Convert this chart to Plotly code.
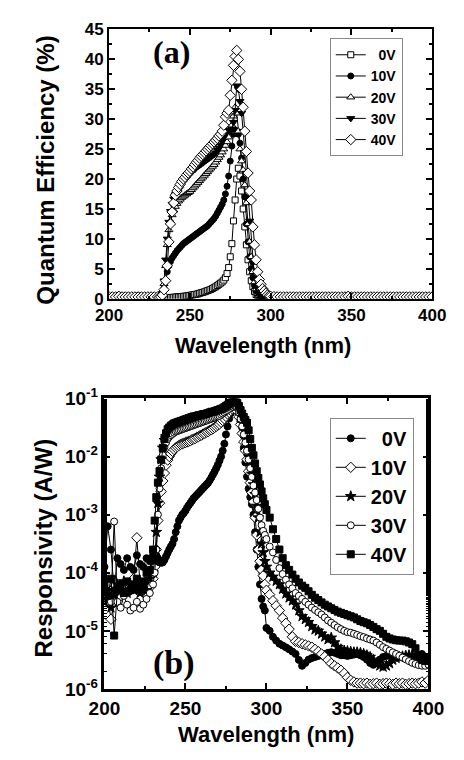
import plotly.graph_objects as go

# ---------------- wavelength grid (nm) ----------------
wl = list(range(200, 231, 2)) + list(range(231, 300)) + list(range(300, 401, 2))

series_labels = ["\u00a0\u00a00V", "10V", "20V", "30V", "40V"]

# ---------------- panel (a): quantum efficiency (%) ----------------
qe_0V = ([0.3, 0.3, 0.3, 0.5, 0.3, 0.3, 0.3, 0.3, 0.3, 0.4, 0.3, 0.3, 0.3, 0.3, 0.3, 0.3]
         + [0.2, 0.2, 0.2, 0.2, 0.2, 0.2, 0.2, 0.2, 0.2, 0.25,
            0.25, 0.3, 0.3, 0.3, 0.35, 0.4, 0.4, 0.45, 0.5, 0.55,
            0.6, 0.65, 0.7, 0.75, 0.8, 0.9, 1.0, 1.05, 1.15, 1.25,
            1.35, 1.45, 1.55, 1.7, 1.85, 2.0, 2.2, 2.4, 2.6, 2.8,
            3.1, 3.5, 4.2, 5.2, 7.0, 9.2, 13.0, 16.5, 20.0, 21.8,
            20.5, 18.0, 15.0, 12.0, 9.0, 6.5, 4.5, 3.0, 2.0, 1.2,
            0.7, 0.5, 0.3, 0.3, 0.25, 0.25, 0.2, 0.2, 0.2]
         + [0.3, 0.3, 0.3, 0.3, 0.3, 0.3, 0.3, 0.3, 0.3, 0.3, 0.3, 0.3, 0.3, 0.3, 0.3, 0.3, 0.3,
            0.3, 0.3, 0.3, 0.3, 0.3, 0.3, 0.3, 0.5, 0.3, 0.3, 0.3, 0.3, 0.3, 0.3, 0.3, 0.3, 0.3,
            0.3, 0.3, 0.3, 0.3, 0.3, 0.3, 0.3, 0.3, 0.3, 0.3, 0.3, 0.3, 0.3, 0.3, 0.3, 0.3, 0.3])
qe_10V = ([0.3, 0.3, 0.3, 0.6, 0.4, 0.3, 0.3, 0.3, 0.3, 0.5, 0.3, 0.3, 0.3, 0.3, 0.3, 0.3]
          + [0.2, 0.3, 0.6, 1.8, 3.0, 4.5, 5.5, 6.2, 6.8, 7.2,
             7.6, 8.0, 8.3, 8.6, 8.9, 9.2, 9.4, 9.6, 9.8, 10.0,
             10.2, 10.4, 10.6, 10.8, 11.0, 11.2, 11.4, 11.6, 11.8, 12.0,
             12.2, 12.5, 12.8, 13.1, 13.4, 13.8, 14.3, 14.8, 15.3, 15.8,
             16.5, 17.5, 18.8, 20.5, 23.0, 25.5, 27.5, 28.2, 28.0, 27.5,
             26.0, 23.5, 20.0, 17.0, 12.5, 9.5, 7.0, 5.0, 3.5, 2.2,
             1.3, 0.8, 0.5, 0.4, 0.3, 0.25, 0.2, 0.2, 0.2]
          + [0.3, 0.3, 0.3, 0.3, 0.3, 0.3, 0.3, 0.3, 0.3, 0.3, 0.3, 0.3, 0.3, 0.3, 0.3, 0.3, 0.3,
             0.3, 0.3, 0.3, 0.3, 0.3, 0.3, 0.3, 0.6, 0.3, 0.3, 0.3, 0.3, 0.3, 0.3, 0.3, 0.3, 0.3,
             0.3, 0.3, 0.3, 0.3, 0.3, 0.3, 0.3, 0.3, 0.3, 0.3, 0.3, 0.3, 0.3, 0.3, 0.3, 0.3, 0.3])
qe_20V = ([0.3, 0.3, 0.3, 0.4, 0.3, 0.3, 0.3, 0.3, 0.3, 0.3, 0.3, 0.3, 0.3, 0.3, 0.3, 0.3]
          + [0.2, 0.3, 0.8, 2.5, 5.5, 9.0, 11.5, 13.0, 14.0, 14.8,
             15.4, 15.9, 16.3, 16.6, 16.9, 17.1, 17.3, 17.5, 17.7, 17.9,
             18.2, 18.5, 18.8, 19.1, 19.4, 19.7, 20.0, 20.3, 20.6, 20.9,
             21.2, 21.5, 21.8, 22.1, 22.4, 22.8, 23.2, 23.6, 24.0, 24.5,
             25.0, 25.6, 26.2, 27.0, 28.0, 29.0, 30.5, 32.0, 31.0, 28.0,
             25.0, 23.0, 21.5, 19.0, 16.0, 12.5, 9.5, 7.0, 4.5, 2.8,
             1.6, 0.9, 0.5, 0.35, 0.3, 0.25, 0.2, 0.2, 0.2]
          + [0.3, 0.3, 0.3, 0.3, 0.3, 0.3, 0.3, 0.3, 0.3, 0.3, 0.3, 0.3, 0.3, 0.3, 0.3, 0.3, 0.3,
             0.3, 0.3, 0.3, 0.3, 0.3, 0.3, 0.3, 0.4, 0.3, 0.3, 0.3, 0.3, 0.3, 0.3, 0.3, 0.3, 0.3,
             0.3, 0.3, 0.3, 0.3, 0.3, 0.3, 0.3, 0.3, 0.3, 0.3, 0.3, 0.3, 0.3, 0.3, 0.3, 0.3, 0.3])
qe_30V = ([0.3, 0.3, 0.3, 0.4, 0.3, 0.3, 0.3, 0.3, 0.3, 0.3, 0.3, 0.3, 0.3, 0.3, 0.3, 0.3]
          + [0.2, 0.3, 0.9, 3.0, 6.5, 10.0, 12.8, 14.6, 15.8, 16.7,
             17.4, 17.9, 18.4, 18.8, 19.2, 19.6, 19.9, 20.2, 20.5, 20.8,
             21.1, 21.4, 21.6, 21.9, 22.1, 22.3, 22.5, 22.7, 22.9, 23.1,
             23.3, 23.5, 23.7, 23.9, 24.1, 24.4, 24.8, 25.2, 25.7, 26.3,
             27.0, 27.6, 27.9, 28.1, 28.2, 28.3, 29.5, 31.5, 35.6, 35.0,
             33.0, 31.0, 28.0, 24.5, 21.0, 17.0, 13.0, 9.0, 6.0, 3.5,
             2.0, 1.0, 0.6, 0.4, 0.3, 0.25, 0.2, 0.2, 0.2]
          + [0.3, 0.3, 0.3, 0.3, 0.3, 0.3, 0.3, 0.3, 0.3, 0.3, 0.3, 0.3, 0.3, 0.3, 0.3, 0.3, 0.3,
             0.3, 0.3, 0.3, 0.3, 0.3, 0.3, 0.3, 0.4, 0.3, 0.3, 0.3, 0.3, 0.3, 0.3, 0.3, 0.3, 0.3,
             0.3, 0.3, 0.3, 0.3, 0.3, 0.3, 0.3, 0.3, 0.3, 0.3, 0.3, 0.3, 0.3, 0.3, 0.3, 0.3, 0.3])
qe_40V = ([0.3, 0.3, 0.3, 0.4, 0.3, 0.3, 0.3, 0.3, 0.3, 0.3, 0.3, 0.3, 0.3, 0.3, 0.3, 0.3]
          + [0.2, 0.3, 0.6, 1.5, 3.0, 5.5, 9.5, 12.5, 14.5, 16.0,
             17.3, 18.0, 18.6, 19.1, 19.6, 20.0, 20.3, 20.7, 21.0, 21.3,
             21.7, 22.0, 22.4, 22.8, 23.1, 23.5, 23.8, 24.1, 24.4, 24.7,
             25.0, 25.3, 25.6, 25.9, 26.2, 26.5, 26.8, 27.2, 27.5, 28.0,
             29.0, 30.4, 31.0, 31.5, 34.0, 36.5, 39.0, 40.5, 41.5, 40.0,
             38.0, 35.0, 32.0, 28.0, 24.6, 21.0, 18.0, 16.5, 12.0, 9.0,
             6.5, 4.5, 3.2, 2.4, 1.7, 1.3, 0.9, 0.6, 0.45]
          + [0.4, 0.35, 0.3, 0.3, 0.3, 0.3, 0.3, 0.3, 0.3, 0.3, 0.3, 0.3, 0.3, 0.3, 0.3, 0.3, 0.3,
             0.3, 0.3, 0.3, 0.3, 0.3, 0.3, 0.3, 0.4, 0.3, 0.3, 0.3, 0.3, 0.3, 0.3, 0.3, 0.3, 0.3,
             0.3, 0.3, 0.3, 0.3, 0.3, 0.3, 0.3, 0.3, 0.3, 0.3, 0.3, 0.3, 0.3, 0.3, 0.3, 0.3, 0.3])

# ---------------- panel (b): responsivity (A/W) ----------------
r_0V = ([1.26e-4, 6.3e-4, 2.5e-4, 5.0e-5, 1.78e-4, 1.41e-4, 1.12e-4, 1.78e-4,
         1.26e-4, 1.12e-4, 2.0e-4, 1.41e-4, 1.26e-4, 1.78e-4, 1.58e-4, 2.0e-4]
        + [2.24e-4, 2.0e-4, 1.78e-4, 1.58e-4, 1.48e-4, 1.51e-4, 1.66e-4, 1.91e-4, 2.19e-4, 2.51e-4,
           2.82e-4, 3.16e-4, 3.8e-4, 5.0e-4, 6.3e-4, 7.9e-4, 8.9e-4, 1.0e-3, 1.07e-3, 1.17e-3,
           1.32e-3, 1.45e-3, 1.58e-3, 1.74e-3, 1.91e-3, 2.04e-3, 2.19e-3, 2.34e-3, 2.51e-3, 2.69e-3,
           2.88e-3, 3.09e-3, 3.31e-3, 3.55e-3, 3.89e-3, 4.37e-3, 4.9e-3, 5.5e-3, 6.3e-3, 7.2e-3,
           8.5e-3, 1.0e-2, 1.26e-2, 1.66e-2, 2.4e-2, 3.3e-2, 4.5e-2, 5.6e-2, 6.8e-2, 7.9e-2,
           8.3e-2, 7.1e-2, 5.6e-2, 4.0e-2, 2.5e-2, 1.41e-2, 7.9e-3, 4.5e-3, 2.8e-3, 2.0e-3,
           1.51e-3, 1.0e-3, 5.0e-4, 2.5e-4, 1.26e-4, 6.3e-5, 3.55e-5, 2.63e-5, 2.24e-5]
        + [1.12e-5, 1.0e-5, 7.9e-6, 6.8e-6, 6.0e-6, 5.6e-6, 5.2e-6, 4.8e-6, 4.4e-6, 4.0e-6,
           3.16e-6, 2.5e-6, 2.8e-6, 3.2e-6, 3.4e-6, 3.55e-6, 3.7e-6, 3.8e-6, 4.0e-6, 4.2e-6,
           4.3e-6, 4.2e-6, 4.0e-6, 3.8e-6, 3.8e-6, 3.7e-6, 3.8e-6, 3.9e-6, 4.0e-6, 3.8e-6,
           3.55e-6, 3.2e-6, 2.8e-6, 2.6e-6, 2.8e-6, 3.2e-6, 3.55e-6, 3.7e-6, 3.8e-6, 3.8e-6,
           3.7e-6, 3.6e-6, 3.55e-6, 3.5e-6, 3.4e-6, 3.3e-6, 3.3e-6, 3.55e-6, 4.0e-6, 3.55e-6,
           3.2e-6])
r_10V = ([5.0e-5, 4.0e-5, 1.58e-5, 3.16e-5, 4.47e-5, 4.0e-5, 5.0e-5, 5.6e-5,
          5.0e-5, 7.9e-5, 4.0e-4, 6.3e-5, 5.0e-5, 6.3e-5, 5.6e-5, 7.9e-5]
         + [1.26e-4, 2.5e-4, 7.9e-4, 1.58e-3, 2.5e-3, 3.8e-3, 5.2e-3, 7.1e-3, 8.7e-3, 1.0e-2,
            1.12e-2, 1.23e-2, 1.32e-2, 1.41e-2, 1.48e-2, 1.55e-2, 1.62e-2, 1.66e-2, 1.7e-2, 1.74e-2,
            1.78e-2, 1.82e-2, 1.86e-2, 1.95e-2, 2.0e-2, 2.04e-2, 2.14e-2, 2.19e-2, 2.29e-2, 2.34e-2,
            2.45e-2, 2.51e-2, 2.63e-2, 2.69e-2, 2.82e-2, 2.88e-2, 3.02e-2, 3.16e-2, 3.31e-2, 3.47e-2,
            3.63e-2, 3.89e-2, 4.17e-2, 4.47e-2, 4.9e-2, 5.4e-2, 5.75e-2, 6.2e-2, 6.6e-2, 6.9e-2,
            6.8e-2, 6.0e-2, 4.8e-2, 3.55e-2, 2.5e-2, 1.78e-2, 1.26e-2, 8.9e-3, 5.6e-3, 3.55e-3,
            2.4e-3, 1.66e-3, 8.9e-4, 4.47e-4, 2.5e-4, 1.58e-4, 1.12e-4, 8.9e-5, 6.3e-5]
         + [5.0e-5, 4.2e-5, 3.3e-5, 2.7e-5, 2.24e-5, 1.66e-5, 1.35e-5, 1.07e-5, 7.9e-6, 6.6e-6,
            6.3e-6, 6.0e-6, 5.75e-6, 5.5e-6, 5.25e-6, 4.8e-6, 4.4e-6, 4.0e-6, 3.6e-6, 3.16e-6,
            2.75e-6, 2.5e-6, 2.3e-6, 2.1e-6, 1.86e-6, 1.58e-6, 1.41e-6, 1.32e-6, 1.26e-6,
            1.26e-6, 1.23e-6, 1.26e-6, 1.2e-6, 1.23e-6, 1.26e-6, 1.2e-6, 1.23e-6, 1.26e-6, 1.23e-6,
            1.2e-6, 1.26e-6, 1.23e-6, 1.26e-6, 1.2e-6, 1.23e-6, 1.26e-6, 1.23e-6, 1.26e-6, 1.32e-6,
            1.26e-6, 1.41e-6])
r_20V = ([3.16e-5, 5.0e-5, 2.5e-5, 4.0e-5, 6.3e-5, 5.0e-5, 7.1e-5, 4.47e-5,
          6.3e-5, 5.0e-5, 5.6e-5, 4.47e-5, 6.3e-5, 5.0e-5, 7.9e-5, 1.0e-4]
         + [1.58e-4, 5.0e-4, 1.58e-3, 4.47e-3, 8.9e-3, 1.41e-2, 1.91e-2, 2.24e-2, 2.51e-2, 2.69e-2,
            2.88e-2, 3.02e-2, 3.16e-2, 3.24e-2, 3.31e-2, 3.39e-2, 3.47e-2, 3.55e-2, 3.63e-2, 3.72e-2,
            3.8e-2, 3.89e-2, 3.98e-2, 4.07e-2, 4.17e-2, 4.27e-2, 4.37e-2, 4.47e-2, 4.57e-2, 4.68e-2,
            4.79e-2, 4.9e-2, 5.0e-2, 5.13e-2, 5.25e-2, 5.37e-2, 5.5e-2, 5.62e-2, 5.75e-2, 5.89e-2,
            6.03e-2, 6.17e-2, 6.31e-2, 6.61e-2, 6.92e-2, 7.24e-2, 7.59e-2, 7.94e-2, 8.32e-2, 8.51e-2,
            8.13e-2, 7.41e-2, 6.31e-2, 5.0e-2, 3.8e-2, 2.82e-2, 2.0e-2, 1.41e-2, 1.0e-2, 7.1e-3,
            5.0e-3, 3.31e-3, 2.24e-3, 1.41e-3, 8.9e-4, 5.0e-4, 3.16e-4, 2.24e-4, 1.58e-4]
         + [1.26e-4, 1.0e-4, 8.5e-5, 7.2e-5, 6.3e-5, 5.25e-5, 4.37e-5, 3.72e-5, 3.31e-5, 2.82e-5,
            2.24e-5, 1.78e-5, 1.58e-5, 1.41e-5, 1.2e-5, 1.05e-5, 1.0e-5, 8.9e-6, 7.9e-6, 7.1e-6,
            7.6e-6, 6.3e-6, 5.25e-6, 4.8e-6, 4.57e-6, 4.47e-6, 4.37e-6, 4.27e-6, 4.27e-6, 4.17e-6,
            4.0e-6, 3.8e-6, 3.55e-6, 3.16e-6, 2.75e-6, 2.51e-6, 2.4e-6, 2.51e-6, 2.75e-6, 3.16e-6,
            3.39e-6, 3.55e-6, 3.63e-6, 3.72e-6, 3.8e-6, 3.8e-6, 3.72e-6, 3.55e-6, 3.31e-6, 3.16e-6,
            3.02e-6])
r_30V = ([4.0e-5, 6.3e-5, 3.16e-5, 7.6e-4, 3.16e-5, 2.5e-5, 4.0e-5, 2.82e-5,
          2.24e-5, 2.5e-5, 3.16e-5, 2.4e-5, 2.82e-5, 3.55e-5, 4.47e-5, 6.3e-5]
         + [1.0e-4, 2.5e-4, 1.0e-3, 2.82e-3, 6.3e-3, 1.05e-2, 1.45e-2, 1.74e-2, 2.0e-2, 2.19e-2,
            2.34e-2, 2.45e-2, 2.57e-2, 2.69e-2, 2.75e-2, 2.82e-2, 2.88e-2, 2.95e-2, 3.02e-2, 3.09e-2,
            3.16e-2, 3.24e-2, 3.31e-2, 3.39e-2, 3.47e-2, 3.55e-2, 3.63e-2, 3.72e-2, 3.8e-2, 3.89e-2,
            3.98e-2, 4.07e-2, 4.17e-2, 4.27e-2, 4.37e-2, 4.47e-2, 4.57e-2, 4.68e-2, 4.79e-2, 4.9e-2,
            5.0e-2, 5.25e-2, 5.5e-2, 5.75e-2, 6.03e-2, 6.31e-2, 6.61e-2, 6.92e-2, 7.24e-2, 7.59e-2,
            7.59e-2, 6.92e-2, 5.75e-2, 4.47e-2, 3.31e-2, 2.4e-2, 1.74e-2, 1.26e-2, 8.9e-3, 6.3e-3,
            4.47e-3, 3.16e-3, 2.4e-3, 1.78e-3, 1.26e-3, 8.9e-4, 6.6e-4, 5.25e-4, 4.47e-4]
         + [3.8e-4, 2.82e-4, 2.24e-4, 1.66e-4, 1.2e-4, 9.5e-5, 7.6e-5, 6.3e-5, 5.4e-5, 4.47e-5,
            4.0e-5, 3.55e-5, 3.16e-5, 2.82e-5, 2.51e-5, 2.29e-5, 2.09e-5, 1.91e-5, 1.7e-5, 1.51e-5,
            1.38e-5, 1.26e-5, 1.15e-5, 1.07e-5, 1.0e-5, 9.5e-6, 9.3e-6, 8.9e-6, 8.5e-6, 8.1e-6,
            7.8e-6, 7.4e-6, 7.1e-6, 6.8e-6, 6.3e-6, 5.75e-6, 5.25e-6, 4.9e-6, 4.57e-6, 4.27e-6,
            4.0e-6, 3.72e-6, 3.47e-6, 3.24e-6, 3.02e-6, 2.82e-6, 2.69e-6, 2.57e-6, 2.51e-6, 2.51e-6,
            2.63e-6])
r_40V = ([6.3e-5, 4.0e-5, 7.9e-5, 8.3e-6, 5.0e-5, 6.3e-5, 4.47e-5, 7.1e-5,
          5.0e-5, 6.3e-5, 7.9e-5, 5.6e-5, 7.1e-5, 1.0e-4, 1.12e-4, 2.5e-4]
         + [7.9e-4, 2.0e-3, 3.55e-3, 5.6e-3, 8.9e-3, 1.41e-2, 2.0e-2, 2.51e-2, 2.95e-2, 3.16e-2,
            3.39e-2, 3.55e-2, 3.72e-2, 3.8e-2, 3.89e-2, 3.98e-2, 4.07e-2, 4.17e-2, 4.27e-2, 4.37e-2,
            4.47e-2, 4.57e-2, 4.68e-2, 4.79e-2, 4.9e-2, 4.9e-2, 5.0e-2, 5.13e-2, 5.13e-2, 5.25e-2,
            5.37e-2, 5.37e-2, 5.5e-2, 5.62e-2, 5.75e-2, 5.89e-2, 5.89e-2, 6.03e-2, 6.17e-2, 6.31e-2,
            6.46e-2, 6.61e-2, 6.76e-2, 7.08e-2, 7.41e-2, 7.76e-2, 8.13e-2, 8.51e-2, 8.91e-2, 9.12e-2,
            8.91e-2, 8.32e-2, 7.41e-2, 6.31e-2, 5.5e-2, 4.79e-2, 4.27e-2, 3.8e-2, 2.82e-2, 2.0e-2,
            1.41e-2, 1.05e-2, 7.6e-3, 5.6e-3, 4.27e-3, 3.31e-3, 2.51e-3, 1.91e-3, 1.51e-3]
         + [1.2e-3, 8.9e-4, 5.6e-4, 3.8e-4, 2.51e-4, 1.78e-4, 1.35e-4, 1.12e-4, 9.3e-5, 7.9e-5,
            6.8e-5, 6.0e-5, 5.5e-5, 4.8e-5, 4.17e-5, 3.72e-5, 3.39e-5, 3.09e-5, 2.82e-5, 2.63e-5,
            2.45e-5, 2.29e-5, 2.14e-5, 2.04e-5, 1.95e-5, 1.86e-5, 1.78e-5, 1.7e-5, 1.58e-5, 1.48e-5,
            1.41e-5, 1.35e-5, 1.26e-5, 1.17e-5, 1.07e-5, 1.0e-5, 8.9e-6, 7.9e-6, 7.4e-6, 7.1e-6,
            6.9e-6, 6.8e-6, 6.8e-6, 6.6e-6, 6.3e-6, 5.9e-6, 5.0e-6, 3.8e-6, 3.16e-6, 3.02e-6,
            3.55e-6])

# tick labels
xticks = [200, 250, 300, 350, 400]
qe_ticks = [0, 5, 10, 15, 20, 25, 30, 35, 40, 45]
r_tickvals = [1e-6, 1e-5, 1e-4, 1e-3, 1e-2, 1e-1]
r_ticktext = ["10<sup>-6</sup>", "10<sup>-5</sup>", "10<sup>-4</sup>",
              "10<sup>-3</sup>", "10<sup>-2</sup>", "10<sup>-1</sup>"]

# ---------------- styles ----------------
FONT = "Liberation Sans, Arial, sans-serif"
W, H = 464, 760

style_a = [
    dict(symbol="square", color="white", size=6),
    dict(symbol="circle", color="black", size=6),
    dict(symbol="triangle-up", color="white", size=7),
    dict(symbol="triangle-down", color="black", size=7),
    dict(symbol="diamond", color="white", size=8),
]
style_b = [
    dict(symbol="circle", color="black", size=7),
    dict(symbol="diamond", color="white", size=8),
    dict(symbol="star", color="black", size=8),
    dict(symbol="circle", color="white", size=7),
    dict(symbol="square", color="black", size=7),
]

fig = go.Figure()

for lab, ys, st in zip(series_labels, [qe_0V, qe_10V, qe_20V, qe_30V, qe_40V], style_a):
    fig.add_trace(go.Scatter(
        x=wl, y=ys, mode="lines+markers", name=lab, legend="legend",
        line=dict(color="black", width=1),
        marker=dict(symbol=st["symbol"], color=st["color"], size=st["size"],
                    line=dict(color="black", width=1)),
        xaxis="x", yaxis="y"))

for lab, ys, st in zip(series_labels, [r_0V, r_10V, r_20V, r_30V, r_40V], style_b):
    fig.add_trace(go.Scatter(
        x=wl, y=ys, mode="lines+markers", name=lab, legend="legend2",
        line=dict(color="black", width=1),
        marker=dict(symbol=st["symbol"], color=st["color"], size=st["size"],
                    line=dict(color="black", width=1)),
        xaxis="x2", yaxis="y2"))

tickfont_a = dict(family=FONT, size=17, color="black", weight="bold")
tickfont_b = dict(family=FONT, size=19, color="black", weight="bold")

common_axis = dict(showline=True, linecolor="black", mirror="allticks", ticks="inside",
                   tickcolor="black", showgrid=False, zeroline=False)

fig.update_layout(
    width=W, height=H, autosize=False,
    margin=dict(l=0, r=0, t=0, b=0),
    paper_bgcolor="white", plot_bgcolor="white",
    font=dict(family=FONT, color="black"),
    xaxis=dict(domain=[100 / W, 447 / W], anchor="y", range=[200, 400],
               tickvals=xticks, linewidth=2, ticklen=6, tickwidth=2, tickfont=tickfont_a,
               minor=dict(dtick=25, tick0=200, ticks="inside", ticklen=3, tickwidth=1.5, tickcolor="black"),
               **common_axis),
    yaxis=dict(domain=[1 - 295 / H, 1 - 17 / H], anchor="x", range=[0, 45],
               tickvals=qe_ticks, linewidth=2, ticklen=6, tickwidth=2, tickfont=tickfont_a,
               minor=dict(dtick=2.5, tick0=0, ticks="inside", ticklen=3, tickwidth=1.5, tickcolor="black"),
               **common_axis),
    xaxis2=dict(domain=[95 / W, 443 / W], anchor="y2", range=[200, 400],
                tickvals=xticks, linewidth=2.5, ticklen=6, tickwidth=2, tickfont=tickfont_b,
                minor=dict(dtick=25, tick0=200, ticks="inside", ticklen=3, tickwidth=1.5, tickcolor="black"),
                **common_axis),
    yaxis2=dict(domain=[1 - 698 / H, 1 - 398 / H], anchor="x2", type="log", range=[-6, -1],
                tickvals=r_tickvals, ticktext=r_ticktext, linewidth=2.5, ticklen=6, tickwidth=2,
                tickfont=tickfont_b,
                minor=dict(ticks="inside", ticklen=3, tickwidth=1.2, tickcolor="black"),
                **common_axis),
    legend=dict(x=337 / W, y=1 - 26 / H, xanchor="left", yanchor="top",
                bgcolor="white", bordercolor="#888888", borderwidth=1,
                font=dict(family=FONT, size=14, color="black", weight="bold"),
                tracegroupgap=0),
    legend2=dict(x=337 / W, y=1 - 418 / H, xanchor="left", yanchor="top",
                 bgcolor="white", bordercolor="#888888", borderwidth=1,
                 font=dict(family=FONT, size=20, color="black", weight="bold"),
                 tracegroupgap=0),
    showlegend=True,
)

annots = [
    dict(text="Quantum Efficiency (%)", x=32 / W, y=1 - 162 / H, textangle=-90, size=24),
    dict(text="Wavelength (nm)", x=265 / W, y=1 - 343 / H, textangle=0, size=22),
    dict(text="Responsivity (A/W)", x=30 / W, y=1 - 552 / H, textangle=-90, size=24),
    dict(text="Wavelength (nm)", x=268 / W, y=1 - 745 / H, textangle=0, size=22),
]
for a in annots:
    fig.add_annotation(text=a["text"], x=a["x"], y=a["y"], xref="paper", yref="paper",
                       xanchor="center", yanchor="middle", textangle=a["textangle"],
                       showarrow=False,
                       font=dict(family=FONT, size=a["size"], color="black", weight="bold"))

for txt, cx, cy, sz in [("(a)", 167, 40, 32), ("(b)", 170, 671, 34)]:
    fig.add_annotation(text=txt, x=cx / W, y=1 - cy / H, xref="paper", yref="paper",
                       xanchor="center", yanchor="middle", showarrow=False,
                       font=dict(family="Liberation Serif, Times New Roman, serif",
                                 size=sz, color="black", weight="bold"))

fig.write_html("out.html")
